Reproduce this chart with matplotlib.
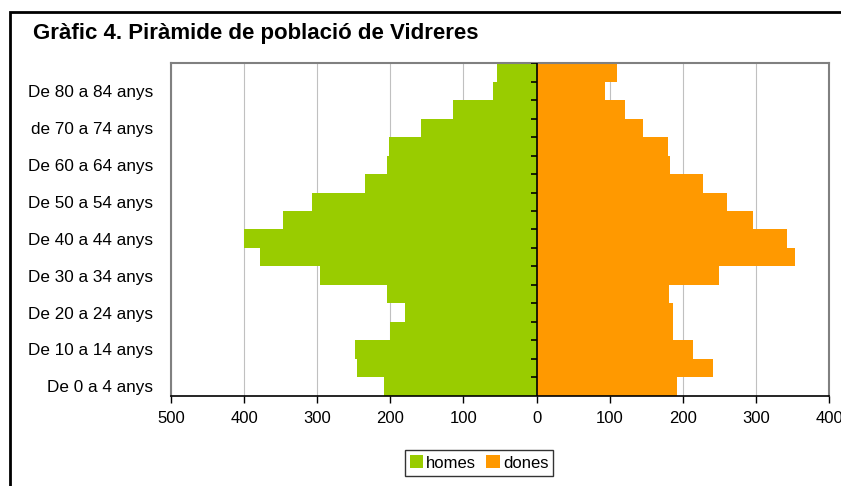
import matplotlib
matplotlib.use("Agg")
import matplotlib.pyplot as plt
import numpy as np
from matplotlib.patches import Rectangle, Patch

plt.rcParams['font.family'] = ['Liberation Sans', 'DejaVu Sans']

# Age groups, bottom (0-4) to top (85+)
age_groups = ["De 0 a 4 anys", "De 5 a 9 anys", "De 10 a 14 anys", "De 15 a 19 anys",
              "De 20 a 24 anys", "De 25 a 29 anys", "De 30 a 34 anys", "De 35 a 39 anys",
              "De 40 a 44 anys", "De 45 a 49 anys", "De 50 a 54 anys", "De 55 a 59 anys",
              "De 60 a 64 anys", "De 65 a 69 anys", "de 70 a 74 anys", "De 75 a 79 anys",
              "De 80 a 84 anys", "85 anys i més"]
homes = [208, 246, 249, 200, 180, 205, 296, 378, 400, 347, 307, 235, 205, 202, 158, 114, 60, 54]
dones = [192, 241, 214, 186, 186, 181, 249, 354, 343, 296, 260, 227, 183, 180, 145, 121, 94, 110]
xtick_values = [-500, -400, -300, -200, -100, 0, 100, 200, 300, 400]
xtick_labels = ["500", "400", "300", "200", "100", "0", "100", "200", "300", "400"]

title = "Gràfic 4. Piràmide de població de Vidreres"
green = "#99CC00"
orange = "#FF9900"

W, H = 841, 486
fig = plt.figure(figsize=(W / 100, H / 100), dpi=100)
fig.patch.set_facecolor("white")

left, right, top, bottom = 171, 829, 63.5, 395.5
ax = fig.add_axes([left / W, 1 - bottom / H, (right - left) / W, (bottom - top) / H])

y = np.arange(len(age_groups))
ax.barh(y, -np.array(homes), height=1.0, color=green, zorder=2, linewidth=0)
ax.barh(y, np.array(dones), height=1.0, color=orange, zorder=2, linewidth=0)

ax.set_xlim(-500, 400)
ax.set_ylim(-0.5, len(age_groups) - 0.5)

ax.set_xticks(xtick_values)
ax.set_xticklabels(xtick_labels, fontsize=12)
ax.tick_params(axis='x', direction='out', length=5, width=1, color='black', pad=6)
ax.xaxis.grid(True, color="#c0c0c0", linewidth=0.8, zorder=0)
ax.set_axisbelow(True)

ax.set_yticks(y[::2])
ax.set_yticklabels(age_groups[::2], fontsize=12.3)
ax.tick_params(axis='y', length=0, pad=13)

for s in ["top", "left", "right"]:
    ax.spines[s].set_color("#808080")
    ax.spines[s].set_linewidth(1.5)
ax.spines["bottom"].set_color("black")
ax.spines["bottom"].set_linewidth(1.2)

# central axis with category boundary ticks
ax.axvline(0, color="black", linewidth=1.2, zorder=3)
bounds = np.arange(len(age_groups) + 1) - 0.5
ax.hlines(bounds[1:], -7, 0, color="black", linewidth=1.2, zorder=3)

# title
fig.text(33 / W, 1 - 33 / H, title, fontsize=16, fontweight='bold', va='center', ha='left')

# outer border
fig.add_artist(Rectangle((10 / W, -0.1), 1.2, 1.1 - 12 / H, transform=fig.transFigure,
                         fill=False, edgecolor="black", linewidth=2))

# legend
handles = [Patch(facecolor=green, edgecolor='none', label="homes"),
           Patch(facecolor=orange, edgecolor='none', label="dones")]
leg = fig.legend(handles=handles, loc='center', bbox_to_anchor=(479 / W, 1 - 463 / H), ncol=2,
                 fontsize=12, frameon=True, fancybox=False, edgecolor='black',
                 handlelength=0.8, handleheight=0.8, handletextpad=0.2, columnspacing=0.6,
                 borderpad=0.3, borderaxespad=0)
leg.get_frame().set_linewidth(1.0)

fig.savefig("out.png", dpi=100, facecolor="white")
